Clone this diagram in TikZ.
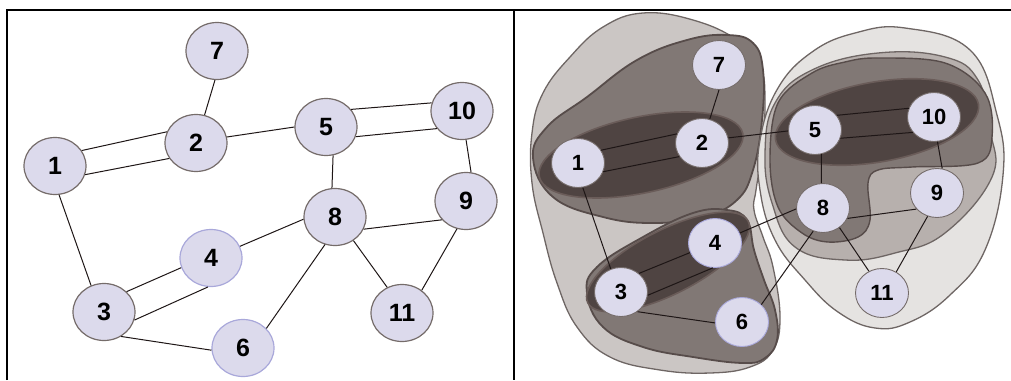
\documentclass[tikz,border=0pt]{standalone}
\usepackage{fontspec}
\setmainfont{Liberation Sans}
\usetikzlibrary{shapes.geometric}

\definecolor{nodefill}{HTML}{DCDAEC}
\definecolor{nodeline}{HTML}{756C6A}
\definecolor{nodeblue}{HTML}{A9A8DA}
\definecolor{edgecol}{HTML}{1E1616}
\definecolor{lightblob}{HTML}{CBC6C4}
\definecolor{paleblob}{HTML}{E5E3E1}
\definecolor{midblob}{HTML}{B7B0AD}
\definecolor{darkblob}{HTML}{817875}
\definecolor{deepblob}{HTML}{4F4442}
\definecolor{blobline}{HTML}{6E6664}
\definecolor{darkline}{HTML}{574C4A}
\definecolor{deepline}{HTML}{6A5C59}

\begin{document}
\begin{tikzpicture}[x=1pt, y=-1pt,
    vtx/.style={ellipse, draw=nodeline, fill=nodefill, line width=1.2pt, inner sep=0pt,
        minimum width=62pt, minimum height=57pt, font=\fontsize{25}{25}\selectfont\bfseries},
    svtx/.style={vtx, minimum width=53pt, minimum height=49pt, line width=0.9pt,
        font=\fontsize{22}{22}\selectfont\bfseries},
    edge/.style={draw=edgecol, line width=1pt},
    outerblob/.style={draw=blobline, line width=1.3pt},
    innerblob/.style={draw=darkline, line width=1.8pt},
    deepcore/.style={draw=deepline, fill=deepblob, line width=1.6pt}]
    \useasboundingbox (0,0) rectangle (1011,380);
    % frame
    \draw[line width=1.3pt] (7,380) -- (7,10) -- (1011,10);
    \draw[line width=1.3pt] (514,10) -- (514,380);

    % ---- left panel: the graph ----
    \foreach \n/\x/\y/\c in {1/55/166/nodeline, 2/196/143/nodeline, 3/104/312/nodeline,
        4/211/258/nodeblue, 5/326/127/nodeline, 6/243/348/nodeblue, 7/217/51/nodeline,
        8/335/217/nodeline, 9/466/201/nodeline, 10/462/111/nodeline, 11/402/313/nodeline} {
        \node[vtx, draw=\c] (l\n) at (\x,\y) {\n};
    }
    \foreach \a/\b in {l7.-94/l2.73, l2.11/l5.180, l1.-82/l3.116, l5.-76/l8.96,
        l10.-82/l9.80, l9.218/l8.-23, l8.184/l4.22, l8.-52/l11.120, l9.-108/l11.49,
        l8.-110/l6.40, l3.-55/l6.184,
        l1.30/l2.159, l1.-16/l2.210, l5.35/l10.165, l5.-18/l10.215,
        l3.42/l4.198, l3.-15/l4.264} {
        \draw[edge] (\a) -- (\b);
    }

    % ---- right panel: nested clusters ----
    % left group
    \filldraw[outerblob, fill=lightblob] plot[smooth cycle, tension=0.7] coordinates {
        (643,13) (693,20) (737,40) (760,67) (765,100) (762,150) (756,190) (754,210)
        (763,237) (773,267) (780,317) (773,350) (750,367) (710,373) (660,370) (610,357)
        (577,327) (557,283) (543,233) (532,183) (532,133) (543,93) (570,57) (603,27)};
    \filldraw[innerblob, fill=darkblob] plot[smooth cycle, tension=0.7] coordinates {
        (533,158) (547,127) (587,97) (637,60) (687,40) (727,35) (753,43) (763,70)
        (762,120) (753,170) (737,200) (703,217) (653,223) (603,217) (553,197)};
    \filldraw[deepcore, rotate around={12:(641,155)}]
        (641,155) ellipse [x radius=104, y radius=38];
    \filldraw[innerblob, fill=darkblob] plot[smooth cycle, tension=0.7] coordinates {
        (693,213) (727,210) (747,220) (754,250) (764,280) (775,310) (777,340) (765,358)
        (743,363) (693,357) (643,347) (603,327) (587,293) (597,267) (643,237)};
    \filldraw[deepcore, rotate around={27:(668,262)}]
        (668,262) ellipse [x radius=90, y radius=32];
    % right group
    \filldraw[outerblob, fill=paleblob] plot[smooth cycle, tension=0.7] coordinates {
        (905,28) (970,50) (997,115) (1003,175) (985,250) (950,295) (910,322) (875,328)
        (838,312) (805,280) (775,240) (760,190) (760,140) (778,88) (812,52) (855,33)};
    \filldraw[outerblob, fill=midblob] plot[smooth cycle, tension=0.7] coordinates {
        (878,53) (945,57) (978,80) (990,130) (992,177) (945,233) (895,253) (845,260)
        (795,247) (772,203) (765,153) (775,103) (812,70)};
    \filldraw[innerblob, fill=darkblob, line width=1.4pt] plot[smooth cycle, tension=0.6] coordinates {
        (878,58) (945,63) (985,93) (992,137) (978,163) (912,167) (878,170) (868,183)
        (870,220) (858,237) (828,242) (802,233) (778,207) (770,160) (778,103) (812,73)
        (845,62)};
    \filldraw[deepcore, rotate around={10:(877,122)}]
        (877,122) ellipse [x radius=103, y radius=40];

    % ---- right panel: the graph ----
    \foreach \n/\x/\y/\c in {1/578/163/nodeline, 2/702/143/nodeline, 3/621/292/nodeline,
        4/715/243/nodeblue, 5/815/130/nodeline, 6/742/322/nodeblue, 7/719/65/nodeline,
        8/823/208/nodeline, 9/937/193/nodeline, 10/934/117/nodeline, 11/882/293/nodeline} {
        \node[svtx, draw=\c] (r\n) at (\x,\y) {\n};
    }
    \foreach \a/\b in {r7.-90/r2.72, r2.11/r5.182, r1.-79/r3.114, r5.-75/r8.94,
        r10.-82/r9.78, r8.-23/r9.218, r8.182/r4.22, r8.-50/r11.121, r9.-112/r11.56,
        r8.-113/r6.42, r3.-50/r6.182,
        r1.29/r2.160, r1.-19/r2.211, r5.34/r10.161, r5.-18/r10.216,
        r3.46/r4.201, r3.-7/r4.265} {
        \draw[edge] (\a) -- (\b);
    }
\end{tikzpicture}
\end{document}
